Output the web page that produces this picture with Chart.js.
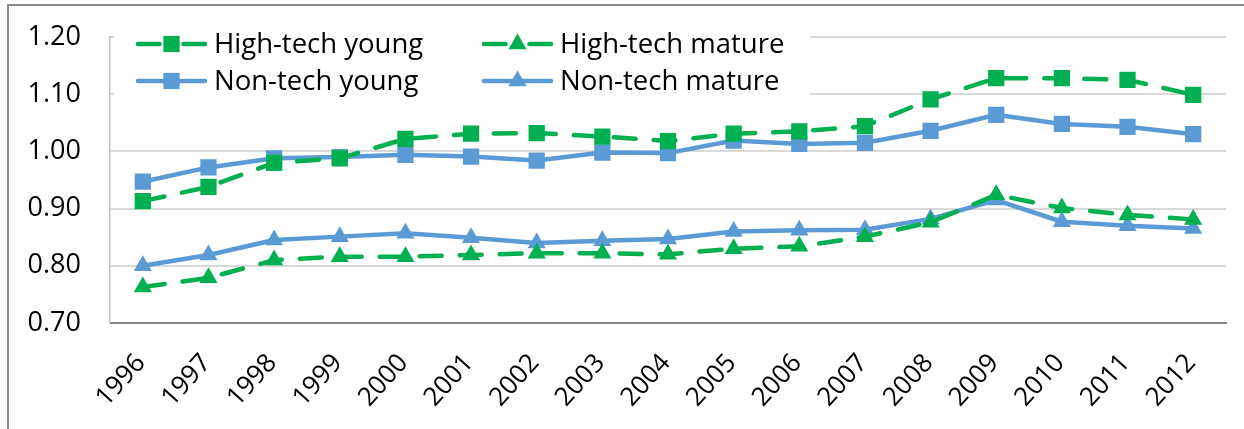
<!DOCTYPE html>
<html>
<head>
<meta charset="utf-8">
<script src="https://cdn.jsdelivr.net/npm/chart.js@4"></script>
<style>
  html, body { margin: 0; padding: 0; background: #fff; overflow: hidden; }
  #frame { position: absolute; left: 7px; top: 4px; width: 1260px; height: 440px;
           border-left: 2px solid #8c8c8c; border-top: 2px solid #8c8c8c; }
  #wrap { position: absolute; left: 0; top: 0; width: 1244px; height: 429px; }
</style>
</head>
<body>
<div id="frame"></div>
<div id="wrap"><canvas id="chart" width="1244" height="429"></canvas></div>
<script>
const years = ['1996','1997','1998','1999','2000','2001','2002','2003','2004','2005','2006','2007','2008','2009','2010','2011','2012'];
const highTechYoung  = [0.913, 0.938, 0.980, 0.988, 1.022, 1.031, 1.032, 1.026, 1.018, 1.031, 1.035, 1.044, 1.091, 1.128, 1.128, 1.125, 1.099];
const highTechMature = [0.763, 0.779, 0.810, 0.816, 0.816, 0.819, 0.822, 0.822, 0.820, 0.830, 0.834, 0.851, 0.876, 0.924, 0.901, 0.889, 0.881];
const nonTechYoung   = [0.947, 0.972, 0.988, 0.990, 0.994, 0.991, 0.984, 0.998, 0.997, 1.019, 1.013, 1.015, 1.036, 1.064, 1.048, 1.043, 1.030];
const nonTechMature  = [0.800, 0.819, 0.845, 0.851, 0.857, 0.849, 0.840, 0.844, 0.847, 0.860, 0.862, 0.863, 0.882, 0.915, 0.877, 0.870, 0.865];
const yTicks = [0.70, 0.80, 0.90, 1.00, 1.10, 1.20];

const GREEN = '#00b050';
const BLUE = '#5b9bd5';
const FONT = '"Open Sans", sans-serif';

function series(label, data, color, dashed, marker) {
  return {
    label: label,
    data: data,
    borderColor: color,
    backgroundColor: color,
    borderWidth: 4.5,
    borderDash: dashed ? [22, 18] : [],
    borderCapStyle: dashed ? 'round' : 'butt',
    borderJoinStyle: 'round',
    pointStyle: marker,
    pointRadius: marker === 'rect' ? 11.5 : 10.5,
    pointBorderWidth: 0,
    tension: 0,
    fill: false
  };
}

// legend drawn like the Excel one: line + marker, 2 columns
const legendBox = {
  id: 'legendBox',
  beforeDatasetsDraw(chart) {
    const ctx = chart.ctx;
    ctx.save();
    ctx.fillStyle = '#fff';
    ctx.fillRect(114, 26, 696, 76);
    ctx.restore();
  },
  afterDraw(chart) {
    const ctx = chart.ctx;
    const spots = [[136, 44], [136, 81], [482, 44], [482, 81]];
    chart.data.datasets.forEach((ds, i) => {
      const [x0, y] = spots[i];
      const x1 = x0 + 71, cx = x0 + 35.5;
      ctx.save();
      ctx.strokeStyle = ds.borderColor;
      ctx.lineWidth = ds.borderWidth;
      ctx.lineCap = 'round';
      ctx.beginPath();
      if (ds.borderDash.length) {
        ctx.moveTo(x0 + 2, y); ctx.lineTo(cx - 12, y);
        ctx.moveTo(cx + 12, y); ctx.lineTo(x1 - 2, y);
      } else {
        ctx.moveTo(x0 + 2, y); ctx.lineTo(x1 - 2, y);
      }
      ctx.stroke();
      ctx.fillStyle = ds.backgroundColor;
      Chart.helpers.drawPoint(ctx, { pointStyle: ds.pointStyle, radius: ds.pointRadius, borderWidth: 0, rotation: 0 }, cx, y);
      ctx.fillStyle = '#000';
      ctx.font = '27.5px ' + FONT;
      ctx.textBaseline = 'middle';
      ctx.fillText(ds.label, x1 + 7, y + 1);
      ctx.restore();
    });
  }
};

new Chart(document.getElementById('chart'), {
  type: 'line',
  data: {
    labels: years,
    datasets: [
      series('High-tech young', highTechYoung, GREEN, true, 'rect'),
      series('Non-tech young', nonTechYoung, BLUE, false, 'rect'),
      series('High-tech mature', highTechMature, GREEN, true, 'triangle'),
      series('Non-tech mature', nonTechMature, BLUE, false, 'triangle')
    ]
  },
  options: {
    responsive: false,
    animation: false,
    layout: { padding: { left: 9, top: 37, right: 18, bottom: 0 } },
    plugins: { legend: { display: false }, tooltip: { enabled: false } },
    scales: {
      x: {
        offset: true,
        grid: { display: false, drawTicks: false },
        border: { display: true, color: '#868686', width: 2 },
        ticks: {
          color: '#000', font: { family: FONT, size: 26 },
          minRotation: 48, maxRotation: 48, autoSkip: false,
          padding: 25, labelOffset: -2
        },
        afterFit(s) { s.height = 106; }
      },
      y: {
        min: 0.7, max: 1.2,
        afterBuildTicks(s) { s.ticks = yTicks.map(v => ({ value: v })); },
        grid: { color: '#d9d9d9', lineWidth: 2, drawTicks: false },
        border: { display: true, color: '#bfbfbf', width: 1.5 },
        ticks: {
          color: '#000', font: { family: FONT, size: 27 }, padding: 29,
          callback: v => Number(v).toFixed(2)
        },
        afterFit(s) { s.width = 101; s.paddingTop = 0; s.paddingBottom = 0; }
      }
    }
  },
  plugins: [legendBox]
});
</script>
</body>
</html>
